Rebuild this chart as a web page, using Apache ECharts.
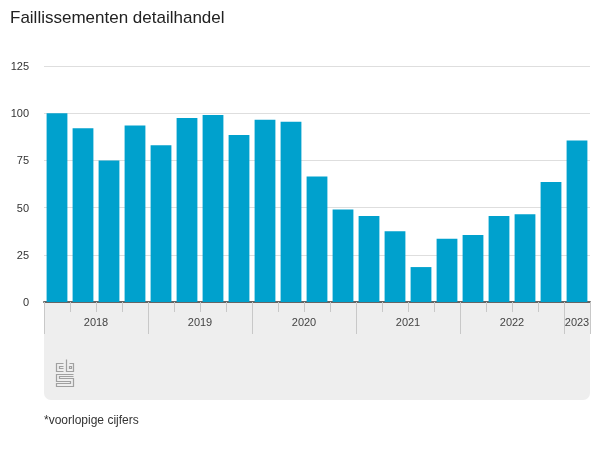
<!DOCTYPE html>
<html>
<head>
<meta charset="utf-8">
<style>
html,body{margin:0;padding:0;background:#fff;}
#chart{width:600px;height:450px;}
</style>
<script src="https://cdn.jsdelivr.net/npm/echarts@6/dist/echarts.min.js"></script>
</head>
<body>
<div id="chart"></div>
<script>
var quarters=['2018 Q1','2018 Q2','2018 Q3','2018 Q4','2019 Q1','2019 Q2','2019 Q3','2019 Q4',
    '2020 Q1','2020 Q2','2020 Q3','2020 Q4','2021 Q1','2021 Q2','2021 Q3','2021 Q4',
    '2022 Q1','2022 Q2','2022 Q3','2022 Q4','2023 Q1*'];
var values=[100,92,75,93.5,83,97.5,99,88.5,96.5,95.5,66.5,49,45.5,37.5,18.5,33.5,35.5,45.5,46.5,63.5,85.5];
var years=['2018','2019','2020','2021','2022','2023'];
var quartersPerYear=[4,4,4,4,4,1];
var titleText='Faillissementen detailhandel';
var noteText='*voorlopige cijfers';

// year boundaries and year label positions, counted in quarters
var yearTicks=[0];
var yearMids=[];
for(var i=0;i<years.length;i++){
    var start=yearTicks[i];
    yearTicks.push(start+quartersPerYear[i]);
    yearMids.push(start+quartersPerYear[i]/2);
}

var font='"Liberation Sans", Arial, sans-serif';
var logoStroke={stroke:'#a0a0a0',lineWidth:1.2,fill:null};

function logoLine(points){
    return {type:'polyline',shape:{points:points},style:logoStroke,silent:true};
}

var chart=echarts.init(document.getElementById('chart'));
chart.setOption({
    animation:false,
    textStyle:{fontFamily:font},
    title:[
        {text:titleText,left:5,top:5,textStyle:{fontFamily:font,fontSize:17,fontWeight:'normal',color:'#222'}},
        {text:noteText,left:39,top:410,textStyle:{fontFamily:font,fontSize:12,fontWeight:'normal',color:'#333'}}
    ],
    grid:{left:44,right:10,top:66,bottom:148,containLabel:false},
    xAxis:[
        {
            type:'category',
            data:quarters,
            axisLine:{lineStyle:{color:'#666',width:2}},
            axisTick:{show:true,interval:0,length:10,lineStyle:{color:'#c8c8c8',width:1}},
            axisLabel:{show:false},
            splitLine:{show:false}
        },
        {
            type:'value',
            position:'bottom',
            min:0,
            max:quarters.length,
            axisLine:{show:false},
            axisTick:{show:true,length:32,customValues:yearTicks,lineStyle:{color:'#c8c8c8',width:1}},
            axisLabel:{
                show:true,
                customValues:yearMids,
                margin:15,
                fontSize:11,
                color:'#444',
                fontFamily:font,
                showMinLabel:true,
                showMaxLabel:true,
                hideOverlap:false,
                formatter:function(v){return years[yearMids.indexOf(v)];}
            },
            splitLine:{show:false}
        }
    ],
    yAxis:{
        type:'value',
        min:0,
        max:125,
        interval:25,
        axisLine:{show:false},
        axisTick:{show:false},
        // small lineHeight moves the labels 1px below the gridline
        axisLabel:{margin:15,fontSize:11,color:'#333',fontFamily:font,verticalAlign:'top',lineHeight:2},
        splitLine:{lineStyle:{color:'#dedede',width:1}}
    },
    series:[{
        type:'bar',
        data:values,
        xAxisIndex:0,
        barCategoryGap:'20%',
        itemStyle:{color:'#00a1cd'}
    }],
    graphic:[
        {
            type:'rect',
            z:-10,
            silent:true,
            shape:{x:44,y:302,width:546,height:98,r:[0,0,7,7]},
            style:{fill:'#eeeeee'}
        },
        {
            type:'group',
            z:-5,
            silent:true,
            children:[
                // c
                logoLine([[63.5,363.5],[56.5,363.5],[56.5,371.5],[63.5,371.5]]),
                logoLine([[63.5,366.5],[59.5,366.5],[59.5,368.5],[63.5,368.5]]),
                // b
                logoLine([[66.5,359.5],[66.5,371.5],[73.5,371.5],[73.5,363.5],[69.5,363.5]]),
                {type:'rect',shape:{x:69.5,y:366.5,width:2,height:2},style:logoStroke,silent:true},
                // s
                logoLine([[73.5,374.5],[56.5,374.5],[56.5,381.5],[70.5,381.5],[70.5,383.5],[56.5,383.5],[56.5,386.5],[73.5,386.5],[73.5,378.5],[59.5,378.5],[59.5,376.5],[73.5,376.5]])
            ]
        }
    ]
});
</script>
</body>
</html>
